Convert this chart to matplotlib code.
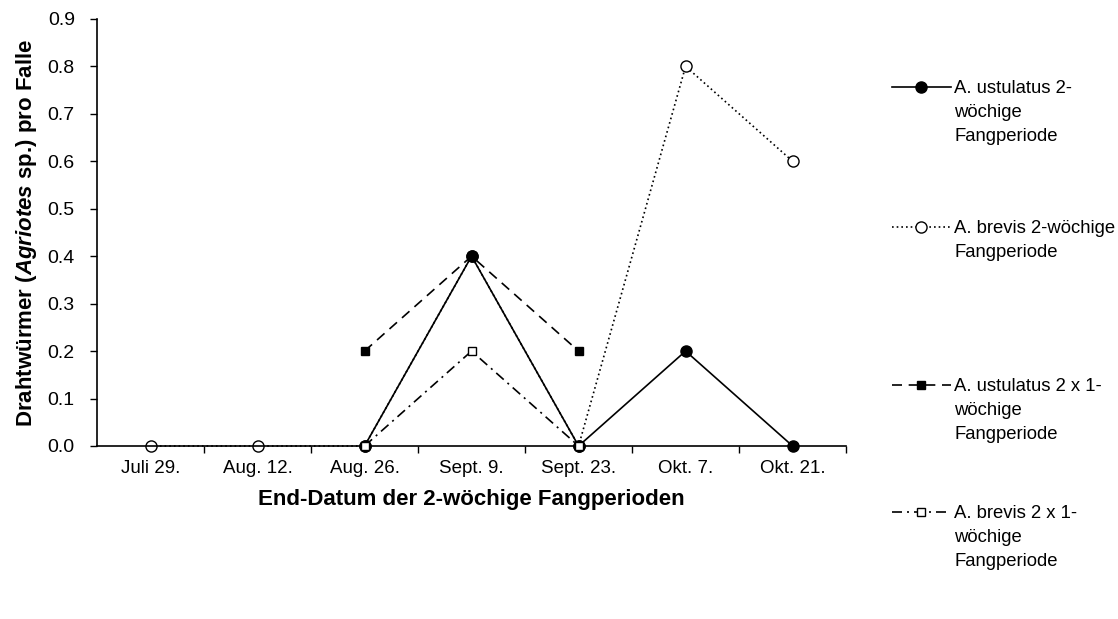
import numpy as np
import matplotlib
matplotlib.use("Agg")
import matplotlib.pyplot as plt

plt.rcParams['font.family'] = ['Liberation Sans', 'DejaVu Sans']
plt.rcParams['mathtext.fontset'] = 'custom'
plt.rcParams['mathtext.rm'] = 'Liberation Sans'
plt.rcParams['mathtext.bf'] = 'Liberation Sans:bold'
plt.rcParams['mathtext.bfit'] = 'Liberation Sans:italic:bold'

# Data
dates = ['Juli 29.', 'Aug. 12.', 'Aug. 26.', 'Sept. 9.', 'Sept. 23.', 'Okt. 7.', 'Okt. 21.']
ustulatus_2w = [np.nan, np.nan, 0.0, 0.4, 0.0, 0.2, 0.0]
brevis_2w = [0.0, 0.0, 0.0, 0.4, 0.0, 0.8, 0.6]
ustulatus_2x1 = [np.nan, np.nan, 0.2, 0.4, 0.2, np.nan, np.nan]
brevis_2x1 = [np.nan, np.nan, 0.0, 0.2, 0.0, np.nan, np.nan]

labels = ['A. ustulatus 2-\nwöchige\nFangperiode',
          'A. brevis 2-wöchige\nFangperiode',
          'A. ustulatus 2 x 1-\nwöchige\nFangperiode',
          'A. brevis 2 x 1-\nwöchige\nFangperiode']

# styles: (linestyle, marker, facecolor, markersize)
styles = [
    ('-', 'o', 'black', 8),
    ((0, (1.0, 1.8)), 'o', 'white', 8),
    ((0, (6, 4)), 's', 'black', 6),
    ((0, (6, 3, 1.2, 3)), 's', 'white', 6),
]
series = [ustulatus_2w, brevis_2w, ustulatus_2x1, brevis_2x1]
zorders = [4, 2, 3, 5]

fig = plt.figure(figsize=(11.18, 6.19), dpi=100)
ax = fig.add_axes([0.0868, 0.2795, 0.67, 0.69])
x = np.arange(len(dates))

for vals, (ls, mk, fc, ms), z in zip(series, styles, zorders):
    ax.plot(x, vals, color='black', linestyle=ls, linewidth=1.2, marker=mk,
            markersize=ms, markerfacecolor=fc, markeredgecolor='black',
            markeredgewidth=1.0, zorder=z, clip_on=False)

ax.set_xlim(-0.5, len(dates) - 0.5)
ax.set_ylim(0, 0.9)
ax.set_yticks(np.arange(0, 0.91, 0.1))
ax.set_yticklabels([f'{v:.1f}' for v in np.arange(0, 0.91, 0.1)])
ax.set_xticks(x)
ax.set_xticklabels(dates)
ax.set_xticks(np.arange(0.5, len(dates), 1), minor=True)
ax.tick_params(axis='x', which='major', length=0, labelsize=13.5, pad=10)
ax.tick_params(axis='x', which='minor', length=5, width=1)
ax.tick_params(axis='y', length=5, width=1, labelsize=14, pad=11)
ax.spines['top'].set_visible(False)
ax.spines['right'].set_visible(False)
ax.spines['left'].set_linewidth(1.2)
ax.spines['bottom'].set_linewidth(1.2)

ax.set_xlabel('End-Datum der 2-wöchige Fangperioden', fontsize=16,
              fontweight='bold', labelpad=9)
ax.set_ylabel(r'Drahtwürmer ($\mathbfit{Agriotes}$ sp.) pro Falle', fontsize=16,
              fontweight='bold', labelpad=6)

# legend drawn by hand so the handle sits on the first text line
lax = fig.add_axes([0.79, 0.0, 0.21, 1.0])
lax.set_xlim(0, 1)
lax.set_ylim(0, 1)
lax.axis('off')
leg_y = [1 - 87 / 619, 1 - 227 / 619, 1 - 385 / 619, 1 - 512 / 619]
for yy, lab, (ls, mk, fc, ms) in zip(leg_y, labels, styles):
    lax.plot([0.038, 0.16, 0.29], [yy, yy, yy], color='black', linestyle=ls,
             linewidth=1.2, marker=mk, markevery=[1], markersize=ms,
             markerfacecolor=fc, markeredgecolor='black', markeredgewidth=1.0)
    lax.text(0.303, yy + 7 / 619, lab, fontsize=13.3, va='top', ha='left',
             linespacing=1.52, transform=lax.transAxes)

fig.savefig('out.png', dpi=100, facecolor='white')
